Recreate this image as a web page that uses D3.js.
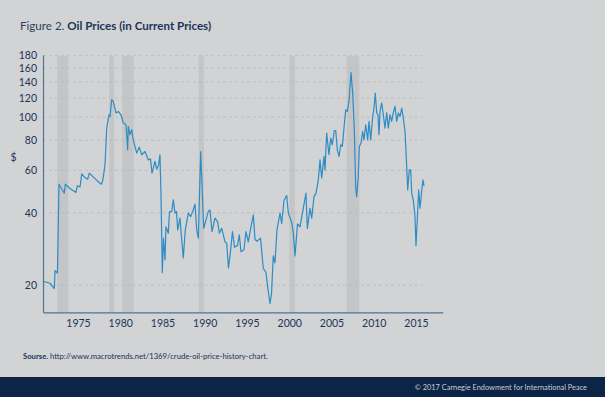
<!DOCTYPE html>
<html>
<head>
<meta charset="utf-8">
<script src="https://cdn.jsdelivr.net/npm/d3@7"></script>
<style>
  body { margin: 0; background: #d1d3d4; }
  svg { display: block; font-family: Lato, "Open Sans", sans-serif; }
</style>
</head>
<body>
<div id="chart"></div>
<script>
// monthly-ish oil price readings, placed as on the chart's time axis
const priceYears = [
  1970.86, 1971.69, 1972.20, 1972.28, 1972.57, 1972.75, 1973.11, 1973.38, 1973.50, 1974.05,
  1974.76, 1974.92, 1975.24, 1975.44, 1975.71, 1976.15, 1976.34, 1976.89, 1977.60, 1977.80,
  1977.96, 1978.20, 1978.40, 1978.67, 1978.79, 1978.99, 1979.18, 1979.50, 1979.77, 1980.09,
  1980.36, 1980.68, 1980.88, 1980.95, 1981.15, 1981.36, 1981.54, 1981.95, 1982.25, 1982.54,
  1982.93, 1983.32, 1983.58, 1983.76, 1984.11, 1984.31, 1984.53, 1984.70, 1984.82, 1984.98,
  1985.12, 1985.30, 1985.41, 1985.69, 1985.83, 1986.09, 1986.28, 1986.48, 1986.66, 1986.80,
  1987.07, 1987.27, 1987.46, 1987.70, 1988.05, 1988.34, 1988.64, 1988.85, 1989.05, 1989.24,
  1989.52, 1989.67, 1989.88, 1990.15, 1990.42, 1990.62, 1990.86, 1991.21, 1991.53, 1991.72,
  1992.01, 1992.40, 1992.60, 1992.81, 1993.05, 1993.28, 1993.52, 1993.88, 1994.09, 1994.29,
  1994.64, 1994.88, 1995.15, 1995.47, 1995.75, 1995.95, 1996.18, 1996.60, 1996.93, 1997.25,
  1997.45, 1997.72, 1997.90, 1998.11, 1998.31, 1998.55, 1998.91, 1999.11, 1999.38, 1999.70,
  1999.89, 2000.29, 2000.48, 2000.68, 2000.98, 2001.27, 2001.59, 2001.98, 2002.14, 2002.46,
  2002.66, 2002.93, 2003.17, 2003.44, 2003.64, 2003.84, 2004.11, 2004.23, 2004.43, 2004.70,
  2004.91, 2005.09, 2005.33, 2005.50, 2005.69, 2005.89, 2006.09, 2006.28, 2006.48, 2006.68,
  2006.87, 2007.07, 2007.31, 2007.51, 2007.70, 2007.86, 2007.98, 2008.17, 2008.29, 2008.49,
  2008.69, 2008.85, 2009.05, 2009.28, 2009.44, 2009.64, 2009.88, 2010.03, 2010.18, 2010.35,
  2010.50, 2010.62, 2010.74, 2010.94, 2011.13, 2011.33, 2011.53, 2011.72, 2011.92, 2012.12,
  2012.31, 2012.51, 2012.72, 2012.91, 2013.11, 2013.31, 2013.50, 2013.70, 2013.90, 2014.02,
  2014.20, 2014.37, 2014.49, 2014.68, 2014.88, 2015.00, 2015.15, 2015.32, 2015.47, 2015.67,
  2015.83, 2015.95
];
const prices = [
  20.8, 20.4, 19.4, 23.0, 22.5, 52.6, 50.0, 48.3, 52.6, 50.5,
  48.6, 51.8, 51.2, 58.1, 56.5, 55.2, 58.5, 56.0, 53.1, 52.6,
  55.2, 63.5, 90.0, 102.2, 100.6, 118.0, 116.0, 104.0, 105.5, 102.2,
  94.4, 92.9, 73.1, 91.4, 84.4, 88.5, 80.4, 70.8, 75.0, 69.7,
  71.9, 66.4, 67.0, 58.5, 65.4, 60.7, 63.0, 69.7, 48.3, 22.6,
  31.4, 25.5, 35.0, 32.9, 40.5, 40.5, 45.3, 39.9, 40.5, 34.0,
  38.0, 31.0, 26.0, 34.0, 39.9, 38.6, 41.1, 43.5, 34.0, 31.4,
  71.9, 53.1, 34.5, 37.4, 40.5, 41.1, 33.4, 38.0, 36.7, 32.9,
  34.5, 30.3, 29.9, 23.6, 27.6, 33.4, 28.8, 29.3, 32.4, 27.6,
  28.1, 33.4, 30.3, 35.0, 39.2, 31.0, 30.5, 31.4, 23.5, 22.6,
  19.7, 16.8, 18.4, 26.5, 24.8, 34.0, 39.9, 36.1, 45.0, 47.2,
  39.9, 36.5, 33.0, 26.5, 36.0, 35.0, 40.5, 48.3, 34.5, 41.8,
  38.0, 46.7, 48.3, 54.8, 66.4, 55.8, 68.6, 60.3, 85.8, 69.7,
  81.8, 76.7, 87.9, 87.9, 73.1, 68.6, 76.7, 75.5, 90.0, 107.2,
  105.5, 116.1, 153.0, 125.8, 88.5, 51.4, 46.7, 56.6, 75.5, 77.9,
  87.1, 80.4, 92.9, 80.4, 95.9, 80.4, 100.6, 109.0, 125.8, 104.0,
  102.2, 84.4, 105.5, 114.4, 102.2, 90.0, 104.0, 90.0, 102.2, 95.9,
  104.0, 110.7, 95.9, 104.0, 100.6, 109.0, 99.0, 87.1, 62.3, 49.8,
  60.3, 60.3, 48.3, 45.3, 38.6, 29.2, 37.4, 49.8, 41.8, 49.1,
  54.8, 51.8
];
// shaded periods as they sit on the chart's time axis
const recessions = [
  [1972.55, 1973.85], [1978.70, 1979.26], [1980.24, 1981.59],
  [1989.28, 1989.91], [2000.01, 2000.68], [2006.80, 2008.29]
];
const xTicks = [1975, 1980, 1985, 1990, 1995, 2000, 2005, 2010, 2015];
const yTicks = [20, 40, 60, 80, 100, 120, 140, 160, 180];

const width = 605;
const height = 397;
const navy = '#1b3558';
const axisColour = '#4d7595';

const svg = d3.select('#chart')
  .append('svg')
  .attr('width', width)
  .attr('height', height);

svg.append('rect')
  .attr('width', width)
  .attr('height', height)
  .attr('fill', '#d1d3d4');

const x = d3.scaleLinear().domain([1970.86, 2018.16]).range([43, 442.7]);
const y = d3.scaleLog().domain([15.45, 181]).range([312.3, 55]);

// title
const title = svg.append('text')
  .attr('x', 20)
  .attr('y', 29.5)
  .attr('font-size', 11.6)
  .attr('fill', navy);
title.append('tspan').attr('fill', '#2c4260').text('Figure 2. ');
title.append('tspan').attr('font-weight', 'bold').text('Oil Prices (in Current Prices)');

// shaded bands
svg.append('g')
  .selectAll('rect')
  .data(recessions)
  .join('rect')
  .attr('x', d => x(d[0]))
  .attr('width', d => x(d[1]) - x(d[0]))
  .attr('y', y(181) + 1)
  .attr('height', y(15.45) - y(181) - 1)
  .attr('fill', '#c3c5c7');

// gridlines
svg.append('g')
  .selectAll('line')
  .data(yTicks)
  .join('line')
  .attr('x1', x(1970.86))
  .attr('x2', x(2015.75))
  .attr('y1', d => y(d))
  .attr('y2', d => y(d))
  .attr('stroke', '#b9bbbe')
  .attr('stroke-width', 0.8)
  .attr('stroke-dasharray', '3,3');

// axes
const yAxis = svg.append('g')
  .attr('transform', `translate(${x(1970.86)},0)`)
  .call(d3.axisLeft(y).tickValues(yTicks).tickFormat(d3.format('d')).tickSize(0).tickPadding(6));
const xAxis = svg.append('g')
  .attr('transform', `translate(0,${y(15.45)})`)
  .call(d3.axisBottom(x).tickValues(xTicks).tickFormat(d3.format('d')).tickSize(0).tickPadding(7));

[yAxis, xAxis].forEach(a => {
  a.select('.domain').attr('stroke', axisColour).attr('stroke-width', 1.2);
  a.selectAll('text')
    .attr('fill', navy)
    .attr('font-size', 10.5)
    .attr('font-family', 'Lato, "Open Sans", sans-serif');
});

svg.append('text')
  .attr('x', 13.5)
  .attr('y', 161)
  .attr('text-anchor', 'middle')
  .attr('font-size', 10.5)
  .attr('fill', navy)
  .text('$');

// price line
const line = d3.line()
  .x(i => x(priceYears[i]))
  .y(i => y(prices[i]));

svg.append('path')
  .attr('d', line(d3.range(prices.length)))
  .attr('fill', 'none')
  .attr('stroke', '#2e8cc4')
  .attr('stroke-width', 1.2)
  .attr('stroke-linejoin', 'round');

// source
const source = svg.append('text')
  .attr('x', 23)
  .attr('y', 359)
  .attr('font-size', 7.7)
  .attr('fill', navy);
source.append('tspan').attr('font-weight', 'bold').text('Sourse. ');
source.append('tspan').text('http://www.macrotrends.net/1369/crude-oil-price-history-chart.');

// footer band
svg.append('rect')
  .attr('y', 377)
  .attr('width', width)
  .attr('height', height - 377)
  .attr('fill', '#0c2446');

svg.append('text')
  .attr('x', 587)
  .attr('y', 390)
  .attr('text-anchor', 'end')
  .attr('font-size', 7.4)
  .attr('fill', '#c9ced6')
  .text('© 2017 Carnegie Endowment for International Peace');
</script>
</body>
</html>
